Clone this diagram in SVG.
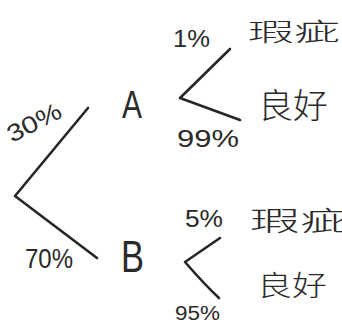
<svg xmlns="http://www.w3.org/2000/svg" width="342" height="327" viewBox="0 0 342 327">
<style>
.ln{fill:none;stroke:#262626;stroke-width:2.6;stroke-linecap:round;stroke-linejoin:round}
.t{font-family:"Liberation Sans","Noto Sans CJK SC",sans-serif;fill:#2a2a2a}
.cjk{font-family:"Noto Sans CJK SC","Liberation Sans",sans-serif;fill:#2a2a2a;font-weight:300}
.pct{font-size:24px}
</style>
<rect width="342" height="327" fill="#ffffff"/>
<g id="connectors">
  <path class="ln" d="M88,108 L15,196 L97,258"/>
  <path class="ln" d="M230,49 L180,98 L240,120"/>
  <path class="ln" d="M220,238 L185,262 Q205,285 219,298"/>
  <text class="t pct" transform="translate(12,143) rotate(-27)" textLength="58" lengthAdjust="spacingAndGlyphs">30%</text>
  <text class="t" x="25" y="268" font-size="28" textLength="48" lengthAdjust="spacingAndGlyphs">70%</text>
  <text class="t pct" x="173" y="47" textLength="37" lengthAdjust="spacingAndGlyphs">1%</text>
  <text class="t pct" x="177" y="147" textLength="62" lengthAdjust="spacingAndGlyphs">99%</text>
  <text class="t pct" x="185" y="227" textLength="38" lengthAdjust="spacingAndGlyphs">5%</text>
  <text class="t" x="175" y="320" font-size="20" textLength="45" lengthAdjust="spacingAndGlyphs">95%</text>
</g>
<g id="nodeA"><text class="t" x="122" y="118" font-size="38" textLength="20" lengthAdjust="spacingAndGlyphs">A</text></g>
<g id="nodeB"><text class="t" x="121" y="272" font-size="44" textLength="23" lengthAdjust="spacingAndGlyphs">B</text></g>
<g id="nodeA-defect"><text class="cjk" x="248" y="41" font-size="25" textLength="92" lengthAdjust="spacingAndGlyphs">瑕疵</text></g>
<g id="nodeA-good"><text class="cjk" x="258" y="118" font-size="34" textLength="70" lengthAdjust="spacingAndGlyphs">良好</text></g>
<g id="nodeB-defect"><text class="cjk" x="250" y="231" font-size="27" textLength="100" lengthAdjust="spacingAndGlyphs">瑕疵</text></g>
<g id="nodeB-good"><text class="cjk" x="257" y="296" font-size="28" textLength="70" lengthAdjust="spacingAndGlyphs">良好</text></g>
</svg>
